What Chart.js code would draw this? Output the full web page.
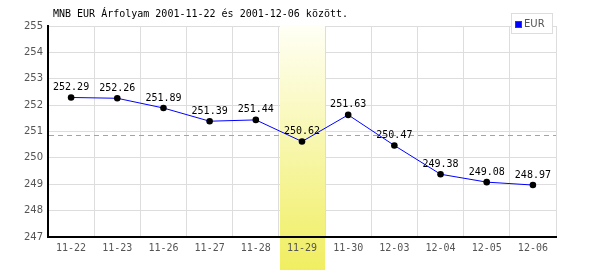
<!DOCTYPE html>
<html>
<head>
<meta charset="utf-8">
<script src="https://cdn.jsdelivr.net/npm/chart.js@4/dist/chart.umd.min.js"></script>
<style>
  body { margin: 0; background: #fff; }
  #wrap { position: relative; width: 600px; height: 270px; }
  #title { position: absolute; left: 53px; top: 8px; font: 10px "DejaVu Sans Mono", monospace; color: #000; }
  #legend { position: absolute; left: 511px; top: 13px; width: 40px; height: 19px; border: 1px solid #ddd; background: #fff;
            font: 10px "DejaVu Sans", sans-serif; color: #555; }
  #legend span.box { position: absolute; left: 3px; top: 7px; width: 5px; height: 5px; background: #00f; border: 1px solid #444; }
  #legend span.txt { position: absolute; left: 12px; top: 4px; }
</style>
</head>
<body>
<div id="wrap">
  <canvas id="myChart" width="600" height="270"></canvas>
  <div id="title">MNB EUR Árfolyam 2001-11-22 és 2001-12-06 között.</div>
  <div id="legend"><span class="box"></span><span class="txt">EUR</span></div>
</div>
<script>
let labels = ["11-22", "11-23", "11-26", "11-27", "11-28", "11-29", "11-30", "12-03", "12-04", "12-05", "12-06"],
    values = [252.29, 252.26, 251.89, 251.39, 251.44, 250.62, 251.63, 250.47, 249.38, 249.08, 248.97];

const highlightIndex = 5;
const avgLine = 250.86;
const yMin = 247, yMax = 255;

let bandGradient = (ctx, top, bottom) => {
    let grad = ctx.createLinearGradient(0, top, 0, bottom);
    grad.addColorStop(0, '#fffff6');
    grad.addColorStop(1, '#f0ee60');
    return grad;
}

let bandEdges = chart => {
    let x = chart.scales.x;
    let half = (x.getPixelForValue(1) - x.getPixelForValue(0)) / 2;
    let cx = x.getPixelForValue(highlightIndex);
    return [Math.round(cx - half) + 1, Math.round(cx + half)];
}

const bandTop = 25, bandBottom = 270;

// yellow band, average line and value labels
const extras = {
    id: 'extras',
    beforeDraw(chart) {
        // part of the band under the x labels
        let ctx = chart.ctx, [l, r] = bandEdges(chart);
        ctx.save();
        ctx.fillStyle = bandGradient(ctx, bandTop, bandBottom);
        ctx.fillRect(l, chart.chartArea.bottom, r - l, bandBottom - chart.chartArea.bottom);
        ctx.restore();
    },
    beforeDatasetsDraw(chart) {
        let ctx = chart.ctx, y = chart.scales.y;
        let ay = Math.round(y.getPixelForValue(avgLine)) + 0.5;
        ctx.save();
        ctx.strokeStyle = '#9a9af0';
        ctx.lineWidth = 1;
        ctx.setLineDash([5, 4]);
        ctx.beginPath();
        ctx.moveTo(chart.chartArea.left + 1, ay);
        ctx.lineTo(chart.chartArea.right, ay);
        ctx.stroke();
        ctx.restore();

        let [l, r] = bandEdges(chart);
        ctx.save();
        ctx.fillStyle = bandGradient(ctx, bandTop, bandBottom);
        ctx.fillRect(l, bandTop, r - l, chart.chartArea.bottom - 1 - bandTop);
        ctx.restore();
    },
    afterDatasetsDraw(chart) {
        let ctx = chart.ctx, x = chart.scales.x, y = chart.scales.y;
        ctx.save();
        ctx.font = '10px "DejaVu Sans Mono", monospace';
        ctx.fillStyle = '#000';
        ctx.textAlign = 'center';
        ctx.textBaseline = 'bottom';
        values.forEach((v, i) => {
            ctx.fillText(v.toFixed(2), x.getPixelForValue(i), y.getPixelForValue(v) - 5);
        });
        ctx.restore();
    }
};

let data = {
    labels: labels,
    datasets: [{
        label: 'EUR',
        data: values,
        borderColor: '#0000ff',
        borderWidth: 1,
        backgroundColor: '#000',
        pointBackgroundColor: '#000',
        pointBorderColor: '#000',
        pointRadius: 3.3,
        pointBorderWidth: 0,
        tension: 0
    }]
};

const config = {
    type: 'line',
    data: data,
    plugins: [extras],
    options: {
        responsive: false,
        animation: false,
        layout: { padding: { top: 26, right: 44, left: 0, bottom: 0 } },
        plugins: { legend: { display: false }, tooltip: { enabled: false } },
        scales: {
            x: {
                offset: true,
                grid: { offset: true, color: '#dddddd', drawTicks: false },
                border: { color: '#000', width: 2 },
                ticks: { color: '#555', padding: 5, font: { family: 'DejaVu Sans Mono', size: 10 }, maxRotation: 0, autoSkip: false },
                afterFit: s => { s.height = 33; }
            },
            y: {
                min: yMin,
                max: yMax,
                grid: { color: '#dddddd', drawTicks: false },
                border: { color: '#000', width: 2 },
                ticks: { stepSize: 1, color: '#555', padding: 5, font: { family: 'DejaVu Sans', size: 10 } },
                afterFit: s => { s.width = 48; }
            }
        }
    }
};

var myChart = new Chart(document.getElementById('myChart'), config);
</script>
</body>
</html>
